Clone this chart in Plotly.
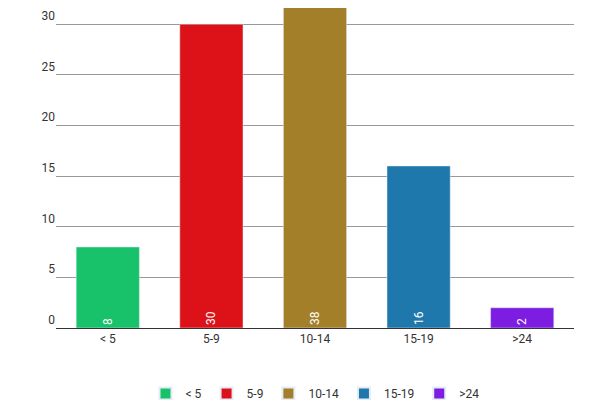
import plotly.graph_objects as go

categories = ["< 5", "5-9", "10-14", "15-19", ">24"]
values = [8, 30, 38, 16, 2]
colors = ["#17c26a", "#dc1218", "#a47f2a", "#1f78ab", "#7d1de2"]

fig = go.Figure()
for cat, val, col in zip(categories, values, colors):
    fig.add_trace(go.Bar(
        x=[cat], y=[val], name=cat, marker_color=col,
        text=[str(val)], textposition="inside", insidetextanchor="start",
        textangle=-90, textfont=dict(color="white", size=12),
    ))

fig.update_layout(
    width=600, height=400,
    margin=dict(l=48, r=34, t=0, b=68),
    plot_bgcolor="white", paper_bgcolor="white",
    font=dict(family="Roboto", size=12, color="#333"),
    bargap=0.39, barmode="overlay",
    showlegend=True,
    legend=dict(orientation="h", x=0.5, xanchor="center", y=-0.16, yanchor="top",
                font=dict(size=12), itemsizing="constant"),
    xaxis=dict(categoryorder="array", categoryarray=categories,
               showline=True, linecolor="#333", linewidth=1, ticks=""),
    yaxis=dict(range=[0, 31.6], dtick=5, showgrid=True, gridcolor="#999",
               gridwidth=1, zeroline=False, ticklabelposition="outside top",
               ticks=""),
)

fig.write_html("out.html")
